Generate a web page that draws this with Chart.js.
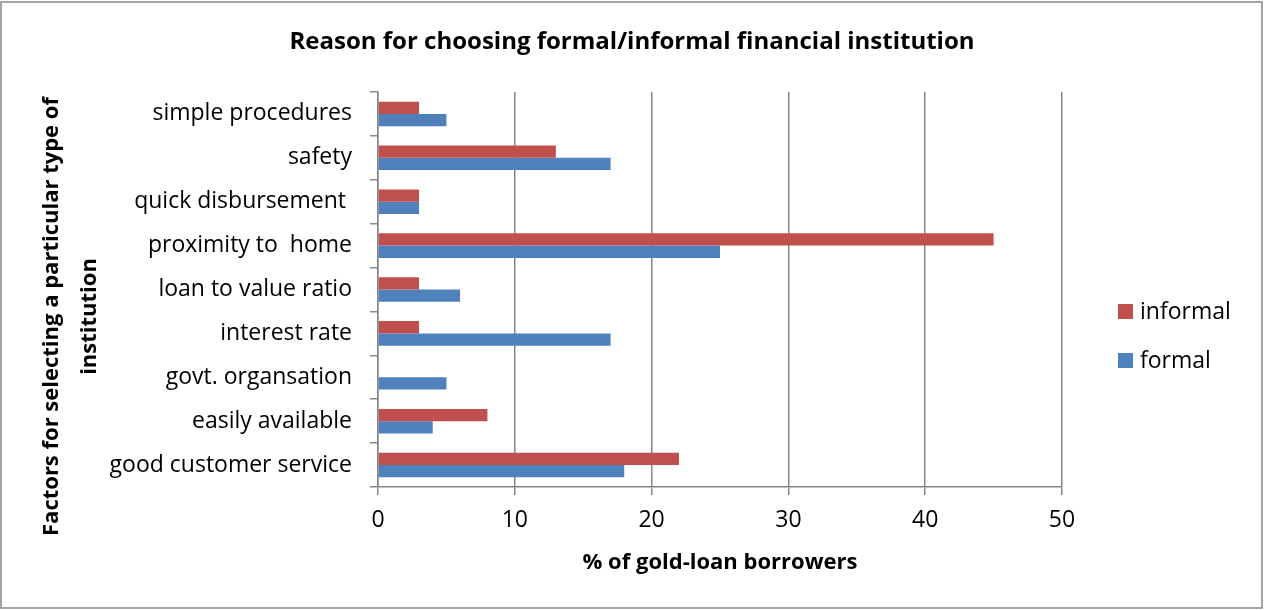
<!DOCTYPE html>
<html>
<head>
<meta charset="utf-8">
<title>Reason for choosing formal/informal financial institution</title>
<script src="https://cdn.jsdelivr.net/npm/chart.js@4.4.1/dist/chart.umd.min.js"></script>
<style>
  html, body { margin: 0; padding: 0; background: #fff; }
  canvas { display: block; }
</style>
</head>
<body>
<canvas id="chart" width="1264" height="610"></canvas>
<script>
const factors = [
  'simple procedures',
  'safety',
  'quick disbursement ',
  'proximity to  home',
  'loan to value ratio',
  'interest rate',
  'govt. organsation',
  'easily available',
  'good customer service'
];
const informal = [3, 13, 3, 45, 3, 3, 0, 8, 22];
const formal = [5, 17, 3, 25, 6, 17, 5, 4, 18];
const xTicks = [0, 10, 20, 30, 40, 50];
const yTitle = ['Factors for selecting a particular type of', 'institution'];

const FONT = '"Open Sans", Lato, "DejaVu Sans", sans-serif';
const GRID = '#868686';

// White page with the thin grey frame round the whole picture.
const framePlugin = {
  id: 'frame',
  beforeDraw(chart) {
    const ctx = chart.ctx;
    ctx.save();
    ctx.fillStyle = '#fff';
    ctx.fillRect(0, 0, chart.width, chart.height);
    ctx.strokeStyle = GRID;
    ctx.lineWidth = 1.5;
    ctx.strokeRect(1, 2, chart.width - 3, chart.height - 4);
    ctx.restore();
  }
};

// The value-axis title in the original sits a bit below the plot's middle, so draw it by hand.
const yTitlePlugin = {
  id: 'yTitle',
  afterDraw(chart) {
    const ctx = chart.ctx;
    const mid = (chart.chartArea.top + chart.chartArea.bottom) / 2 + 27;
    ctx.save();
    ctx.translate(52, mid);
    ctx.rotate(-Math.PI / 2);
    ctx.font = 'bold 22px ' + FONT;
    ctx.fillStyle = '#000';
    ctx.textAlign = 'center';
    ctx.textBaseline = 'middle';
    yTitle.forEach((line, i) => ctx.fillText(line, 0, i * 38));
    ctx.restore();
  }
};

// Legend as its own layout box on the right, so the title stays centred on the whole page.
const sideLegend = {
  id: 'sideLegend',
  beforeInit(chart) {
    const box = {
      position: 'right', weight: 0, fullSize: false, options: {},
      left: 0, top: 0, right: 0, bottom: 0, width: 0, height: 0,
      isHorizontal() { return false; },
      update(maxWidth, maxHeight) { this.width = 202; this.height = maxHeight; },
      draw() {
        const ctx = chart.ctx;
        const x = chart.chartArea.right + 56;
        const y0 = 311, step = 49;
        ctx.save();
        ctx.font = '23px ' + FONT;
        ctx.textBaseline = 'middle';
        chart.data.datasets.forEach((d, i) => {
          const y = y0 + i * step;
          ctx.fillStyle = d.backgroundColor;
          ctx.fillRect(x, y - 7, 15, 15);
          ctx.fillStyle = '#000';
          ctx.fillText(d.label, x + 22, y + 1);
        });
        ctx.restore();
      }
    };
    Chart.layouts.addBox(chart, box);
  }
};

new Chart(document.getElementById('chart'), {
  type: 'bar',
  data: {
    labels: factors,
    datasets: [
      { label: 'informal', data: informal, backgroundColor: '#C0504D' },
      { label: 'formal', data: formal, backgroundColor: '#4F81BD' }
    ]
  },
  options: {
    indexAxis: 'y',
    responsive: false,
    animation: false,
    layout: { padding: 0 },
    datasets: { bar: { categoryPercentage: 0.56, barPercentage: 1 } },
    scales: {
      x: {
        min: 0, max: 50,
        afterBuildTicks: s => { s.ticks = xTicks.map(v => ({ value: v })); },
        afterFit: s => { s.height = 123; },
        grid: { color: GRID, lineWidth: 1.5, tickLength: 8 },
        border: { color: GRID, width: 1.5 },
        ticks: { color: '#000', padding: 12, font: { family: FONT, size: 23 } },
        title: {
          display: true, text: '% of gold-loan borrowers', color: '#000',
          font: { family: FONT, size: 22, weight: 'bold' }, padding: { top: 0, bottom: 34 }
        }
      },
      y: {
        afterFit: s => { s.width = 378; },
        grid: { display: true, drawOnChartArea: false, color: GRID, lineWidth: 1.5, tickLength: 8 },
        border: { color: GRID, width: 1.5 },
        ticks: { color: '#000', padding: 18, font: { family: FONT, size: 23 } }
      }
    },
    plugins: {
      legend: { display: false },
      tooltip: { enabled: false },
      title: {
        display: true,
        text: 'Reason for choosing formal/informal financial institution',
        color: '#000',
        font: { family: FONT, size: 24, weight: 'bold' },
        padding: { top: 27.5, bottom: 35.7 }
      }
    }
  },
  plugins: [framePlugin, yTitlePlugin, sideLegend]
});
</script>
</body>
</html>
